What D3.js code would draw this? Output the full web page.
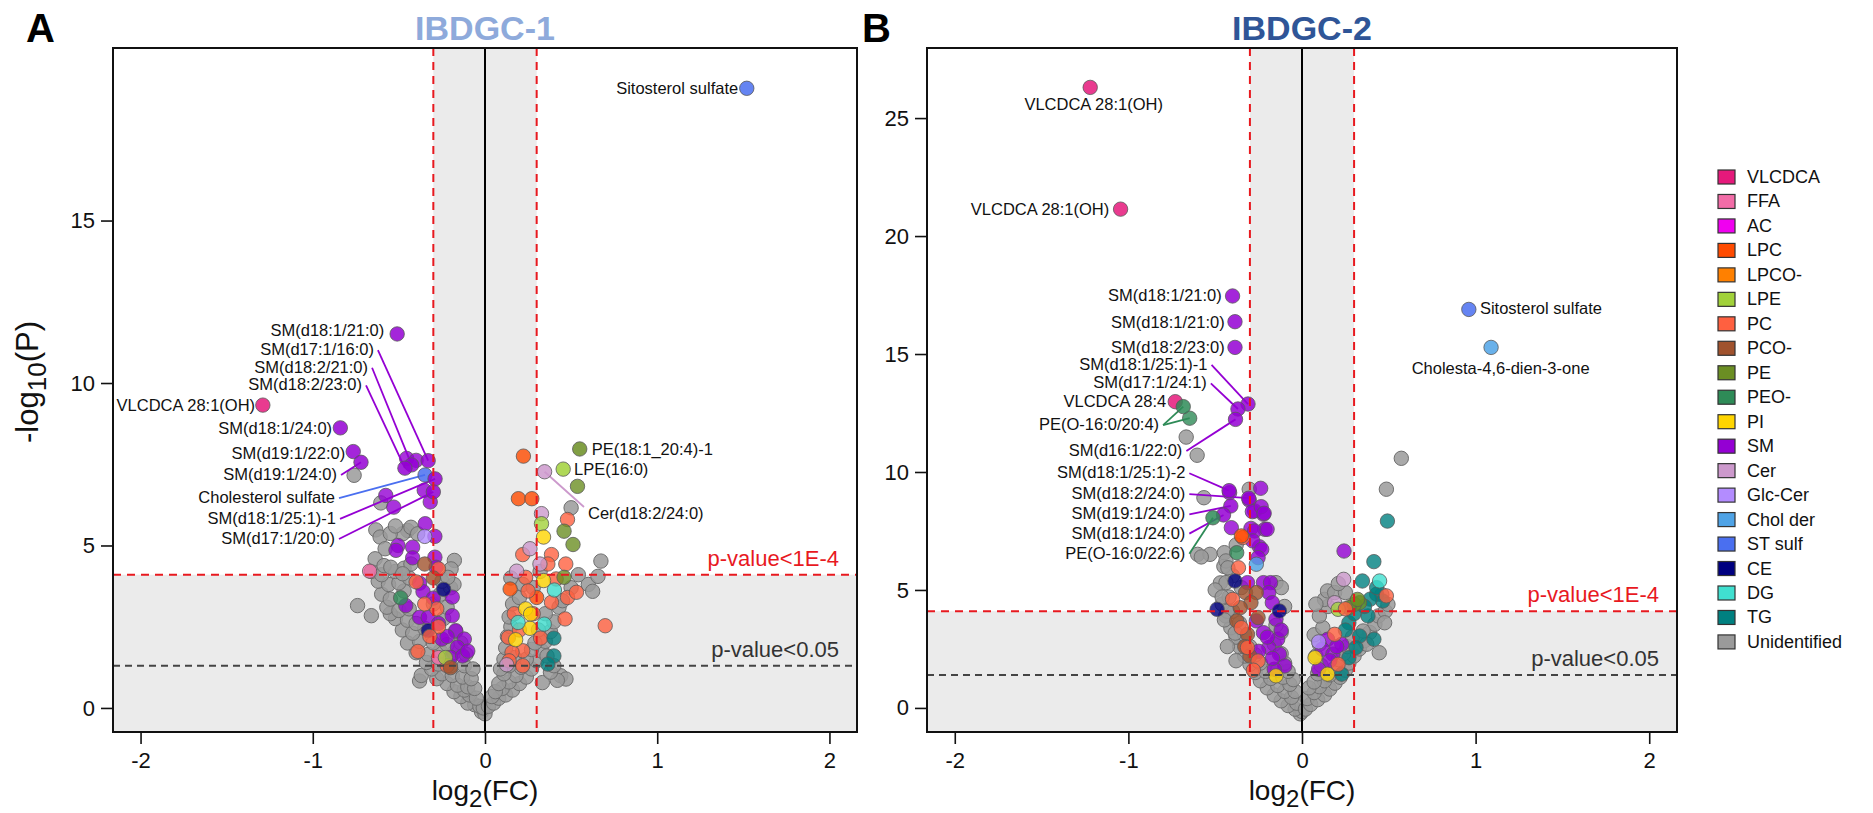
<!DOCTYPE html>
<html>
<head>
<meta charset="utf-8">
<script src="https://cdn.jsdelivr.net/npm/d3@7"></script>
<style>
  body { margin: 0; background: #fff; }
  text { font-family: "Liberation Sans", Arial, Helvetica, sans-serif; }
</style>
</head>
<body>
<svg id="chart" width="1873" height="813"></svg>
<script>
// ---- lipid classes and legend colours ----
const classNames = ["VLCDCA","FFA","AC","LPC","LPCO-","LPE","PC","PCO-","PE","PEO-","PI","SM","Cer","Glc-Cer","Chol der","ST sulf","CE","DG","TG","Unidentified"];
const classColors = ["#e5197b","#f26ca7","#f000f0","#ff4b00","#ff8000","#a1d13a","#ff6040","#a0522d","#6b8e23","#2e8b57","#ffd500","#9400d3","#cc99cc","#b38cff","#4fa3e6","#4a6ff0","#000080","#40e0d0","#008080","#9a9a9a"];

// ---- axis ticks ----
const xTickValues = [-2, -1, 0, 1, 2];
const yTicksA = [0, 5, 10, 15];
const yTicksB = [0, 5, 10, 15, 20, 25];

// ---- significance thresholds (log2 FC cut, -log10 p) ----
const fcCut = 0.3;
const strictP = [4.1, 4.1];
const nominalP = [1.3, 1.4];

// ---- IBDGC-1: unidentified features [log2FC, -log10P] ----
const grayA = [
  [-0.02,-0.12],[0.0,-0.18],[-0.06,0.1],[-0.1,0.15],[-0.03,0.05],[-0.01,0.0],
  [-0.14,0.35],[-0.09,0.4],[-0.05,0.3],[-0.18,0.5],[-0.12,0.55],
  [-0.22,0.75],[-0.16,0.7],[-0.1,0.65],[-0.06,0.6],[-0.28,0.9],[-0.38,0.83],[-0.37,1.0],
  [-0.25,1.05],[-0.19,1.0],[-0.13,0.95],[-0.08,0.9],[-0.31,1.2],
  [-0.34,1.4],[-0.27,1.35],[-0.2,1.3],[-0.12,1.3],[-0.07,1.2],
  [-0.4,1.7],[-0.33,1.65],[-0.26,1.75],[-0.18,1.7],[-0.11,1.65],
  [-0.45,2.0],[-0.38,2.05],[-0.3,2.0],[-0.14,2.0],[-0.22,1.95],
  [-0.48,2.4],[-0.42,2.3],[-0.35,2.45],[-0.17,2.35],
  [-0.52,2.75],[-0.45,2.7],[-0.4,2.6],[-0.24,2.75],[-0.55,2.9],
  [-0.57,3.1],[-0.5,3.0],[-0.44,3.05],[-0.3,3.2],[-0.22,3.1],
  [-0.6,3.5],[-0.55,3.35],[-0.47,3.6],[-0.26,3.5],[-0.2,3.7],
  [-0.62,3.9],[-0.56,3.8],[-0.5,3.85],[-0.44,4.0],[-0.25,3.9],[-0.18,3.8],
  [-0.66,4.2],[-0.6,4.1],[-0.52,4.2],[-0.47,4.3],
  [-0.74,3.15],[-0.66,2.84],
  [-0.76,7.16],[-0.605,6.31],[-0.634,5.48],[-0.609,5.26],[-0.449,5.46],[-0.478,5.36],[-0.43,5.56],
  [-0.391,5.36],[-0.638,4.59],[-0.586,4.38],[-0.547,4.33],[-0.43,4.43],[-0.478,4.13],[-0.178,4.54],
  [-0.197,4.28],[-0.216,4.02],[-0.55,5.37],[-0.58,4.9],[-0.52,5.6],
  [0.02,0.05],[0.05,0.15],[0.08,0.3],[0.12,0.4],[0.04,0.35],[0.16,0.55],[0.1,0.6],[0.06,0.5],
  [0.2,0.75],[0.14,0.8],[0.08,0.75],[0.24,0.95],[0.18,1.0],[0.11,1.05],[0.27,1.2],[0.21,1.25],
  [0.14,1.3],[0.09,1.2],[0.3,1.45],[0.24,1.5],[0.17,1.55],[0.11,1.5],[0.33,1.75],[0.27,1.8],
  [0.12,1.85],[0.35,2.05],[0.29,2.0],[0.13,2.2],[0.38,2.35],[0.31,2.4],[0.15,2.5],[0.4,2.65],
  [0.35,2.9],[0.14,2.8],[0.43,3.1],[0.16,3.2],[0.45,3.3],[0.2,3.4],[0.5,3.7],[0.22,3.8],
  [0.28,3.7],[0.6,3.8],[0.32,4.2],[0.15,4.0],[0.44,0.99],[0.47,0.89],[0.42,0.85],[0.333,0.78],
  [0.38,1.1],[0.4,1.3],[0.36,1.6],
  [0.5,6.16],[0.673,4.52],[0.656,4.05],[0.542,4.1],[0.625,3.59]
];

// ---- IBDGC-1: annotated-class features [log2FC, -log10P, class] ----
const lipidsA = [
  [-0.455,7.68,"SM"],[-0.40,7.62,"SM"],[-0.353,6.7,"SM"],[-0.318,6.34,"SM"],[-0.576,6.54,"SM"],
  [-0.53,6.18,"SM"],[-0.347,5.67,"SM"],[-0.291,5.28,"SM"],[-0.505,5.0,"SM"],[-0.517,4.85,"SM"],
  [-0.42,4.95,"SM"],[-0.42,4.62,"SM"],[-0.291,4.64,"SM"],[-0.284,4.33,"SM"],
  [-0.38,3.84,"SM"],[-0.36,3.58,"SM"],[-0.30,3.38,"SM"],[-0.19,3.41,"SM"],[-0.46,3.15,"SM"],
  [-0.38,2.79,"SM"],[-0.33,2.79,"SM"],[-0.19,2.84,"SM"],[-0.17,2.38,"SM"],[-0.12,2.12,"SM"],
  [-0.16,1.87,"SM"],[-0.2,1.56,"SM"],[-0.13,1.6,"SM"],[-0.25,2.12,"SM"],[-0.27,2.6,"SM"],
  [-0.22,2.2,"SM"],[-0.1,1.75,"SM"],
  [-0.24,3.65,"CE"],[-0.33,2.38,"CE"],
  [-0.4,3.88,"PC"],[-0.39,1.74,"PC"],[-0.28,3.05,"PC"],[-0.27,4.28,"PC"],[-0.27,2.5,"PC"],
  [-0.35,3.2,"PC"],[-0.32,2.2,"PC"],[-0.22,1.3,"PC"],
  [-0.49,3.39,"PEO-"],
  [-0.27,1.55,"FFA"],[-0.67,4.21,"FFA"],
  [-0.23,1.55,"LPE"],
  [-0.35,4.43,"PCO-"],[-0.2,1.24,"PCO-"],[-0.3,4.0,"PCO-"],
  [-0.35,5.28,"Glc-Cer"],
  [0.223,7.75,"LPC"],[0.194,6.44,"LPC"],[0.272,6.44,"LPC"],[0.146,3.66,"LPC"],[0.3,3.4,"LPC"],
  [0.479,5.80,"PC"],[0.219,4.72,"PC"],[0.386,4.72,"PC"],[0.365,4.43,"PC"],[0.469,4.43,"PC"],
  [0.236,4.02,"PC"],[0.413,3.97,"PC"],[0.386,3.25,"PC"],[0.479,3.40,"PC"],[0.531,3.56,"PC"],
  [0.465,2.74,"PC"],[0.698,2.53,"PC"],[0.136,2.17,"PC"],[0.323,2.15,"PC"],[0.219,1.76,"PC"],
  [0.157,1.71,"PC"],[0.219,1.3,"PC"],[0.2,2.4,"PC"],[0.25,3.6,"PC"],[0.17,2.9,"PC"],
  [0.28,2.9,"PC"],[0.14,1.45,"PC"],
  [0.328,5.98,"Cer"],[0.261,4.9,"Cer"],[0.319,4.43,"Cer"],[0.184,4.21,"Cer"],[0.126,1.33,"Cer"],
  [0.328,5.67,"LPE"],
  [0.34,5.26,"PI"],[0.34,3.92,"PI"],[0.236,3.05,"PI"],[0.265,2.89,"PI"],[0.261,2.45,"PI"],[0.178,2.10,"PI"],
  [0.537,6.82,"PE"],[0.459,5.44,"PE"],[0.511,5.03,"PE"],[0.459,4.02,"PE"],
  [0.403,3.63,"DG"],[0.192,2.63,"DG"],[0.344,2.58,"DG"],
  [0.4,2.15,"TG"],[0.4,1.6,"TG"],[0.365,1.35,"TG"]
];

// ---- IBDGC-1: named features [name, log2FC, -log10P, class] ----
const namedA = [
  ["Sitosterol sulfate", 1.52, 19.07, "ST sulf"],
  ["SM(d18:1/21:0)", -0.51, 11.51, "SM"],
  ["SM(d17:1/16:0)", -0.33, 7.61, "SM"],
  ["SM(d18:2/21:0)", -0.426, 7.48, "SM"],
  ["SM(d18:2/23:0)", -0.465, 7.38, "SM"],
  ["VLCDCA 28:1(OH)", -1.29, 9.32, "VLCDCA"],
  ["SM(d18:1/24:0)", -0.84, 8.62, "SM"],
  ["SM(d19:1/22:0)", -0.765, 7.89, "SM"],
  ["SM(d19:1/24:0)", -0.72, 7.56, "SM"],
  ["Cholesterol sulfate", -0.348, 7.17, "ST sulf"],
  ["SM(d18:1/25:1)-1", -0.29, 7.05, "SM"],
  ["SM(d17:1/20:0)", -0.30, 6.65, "SM"],
  ["PE(18:1_20:4)-1", 0.55, 7.97, "PE"],
  ["LPE(16:0)", 0.454, 7.35, "LPE"],
  ["Cer(d18:2/24:0)", 0.346, 7.27, "Cer"]
];
// label placement for namedA, same order: [labelX, labelY, anchor, leader]
const labelLayoutA = [
  [1.47, 19.07, "end", false],
  [-0.585, 11.62, "end", false],
  [-0.645, 11.04, "end", true],
  [-0.679, 10.5, "end", true],
  [-0.714, 9.96, "end", true],
  [-1.335, 9.32, "end", false],
  [-0.888, 8.62, "end", false],
  [-0.812, 7.85, "end", false],
  [-0.859, 7.2, "end", true],
  [-0.871, 6.49, "end", true],
  [-0.865, 5.85, "end", true],
  [-0.871, 5.23, "end", true],
  [0.62, 7.97, "start", false],
  [0.517, 7.35, "start", false],
  [0.598, 6.0, "start", true]
];

// ---- IBDGC-2: unidentified features ----
const grayB = [
  [-0.01,-0.25],[0.0,-0.15],[-0.04,-0.05],[-0.08,0.1],[-0.03,0.2],[-0.12,0.3],[-0.06,0.45],
  [-0.16,0.55],[-0.1,0.7],[-0.04,0.7],[-0.2,0.85],[-0.14,0.95],[-0.07,1.0],[-0.24,1.15],
  [-0.18,1.25],[-0.11,1.3],[-0.05,1.2],[-0.27,1.5],[-0.21,1.55],[-0.14,1.6],[-0.08,1.55],
  [-0.3,1.85],[-0.24,1.9],[-0.1,1.9],[-0.33,2.2],[-0.27,2.25],[-0.12,2.3],[-0.36,2.6],
  [-0.3,2.6],[-0.16,2.7],[-0.38,3.0],[-0.33,3.1],[-0.12,3.2],[-0.41,3.4],[-0.36,3.6],
  [-0.15,3.5],[-0.44,3.9],[-0.4,4.1],[-0.1,4.3],[-0.46,4.4],[-0.42,4.7],[-0.35,5.1],
  [-0.47,5.3],[-0.4,5.6],[-0.45,6.0],[-0.38,2.0],[-0.43,4.1],[-0.447,3.73],[-0.385,3.17],[-0.43,2.6],
  [-0.667,11.48],[-0.604,10.71],[-0.565,8.91],[-0.304,9.27],[-0.601,6.51],[-0.53,6.51],
  [-0.447,6.58],[-0.438,6.23],[-0.427,5.94],[-0.438,5.31],[-0.15,5.31],[-0.119,5.1],
  [-0.58,6.4],[-0.5,5.0],[-0.46,4.7],[-0.379,6.91],
  [0.02,-0.05],[0.05,0.15],[0.03,0.4],[0.09,0.35],[0.13,0.55],[0.07,0.65],[0.16,0.8],
  [0.1,0.9],[0.04,0.85],[0.19,1.05],[0.13,1.15],[0.07,1.1],[0.22,1.3],[0.16,1.4],[0.09,1.45],
  [0.25,1.6],[0.19,1.7],[0.11,1.8],[0.27,1.9],[0.21,2.05],[0.3,2.2],[0.24,2.3],[0.08,2.2],
  [0.33,2.5],[0.26,2.6],[0.1,2.7],[0.36,2.85],[0.29,3.0],[0.07,3.1],[0.39,3.2],[0.12,3.4],
  [0.42,3.55],[0.1,3.9],[0.44,3.9],[0.15,4.3],[0.48,4.1],[0.46,4.8],[0.13,4.6],[0.08,4.4],
  [0.572,10.58],[0.486,9.27],[0.147,4.96],[0.188,4.89],[0.25,4.89],[0.209,5.27],[0.495,4.39],
  [0.476,3.61],[0.445,2.34],[0.373,2.7],[0.352,3.26]
];

// ---- IBDGC-2: annotated-class features ----
const lipidsB = [
  [-0.238,9.31,"SM"],[-0.417,9.12,"SM"],[-0.304,8.81,"SM"],[-0.273,8.35,"SM"],[-0.222,8.21,"SM"],
  [-0.286,8.32,"SM"],[-0.235,8.53,"SM"],[-0.218,8.25,"SM"],[-0.294,7.61,"SM"],[-0.214,7.57,"SM"],
  [-0.245,6.83,"SM"],[-0.407,7.64,"SM"],[-0.273,7.5,"SM"],[-0.201,7.57,"SM"],[-0.284,7.08,"SM"],
  [-0.232,6.72,"SM"],[-0.253,6.37,"SM"],[-0.314,5.31,"SM"],[-0.222,5.31,"SM"],[-0.181,5.31,"SM"],
  [-0.191,4.89,"SM"],[-0.171,4.46,"SM"],
  [-0.263,3.69,"SM"],[-0.15,3.76,"SM"],[-0.222,3.19,"SM"],[-0.14,2.91,"SM"],[-0.191,2.56,"SM"],
  [-0.13,2.28,"SM"],[-0.099,1.78,"SM"],[-0.16,1.64,"SM"],[-0.2,3.0,"SM"],[-0.17,2.1,"SM"],
  [-0.12,3.3,"SM"],[-0.25,2.4,"SM"],
  [-0.325,4.89,"PCO-"],[-0.263,4.89,"PCO-"],[-0.294,4.46,"PCO-"],[-0.356,4.25,"PCO-"],
  [-0.376,3.69,"PCO-"],[-0.314,3.12,"PCO-"],[-0.253,3.83,"PCO-"],[-0.33,2.6,"PCO-"],[-0.3,2.2,"PCO-"],
  [-0.341,7.22,"PC"],[-0.366,5.94,"PC"],[-0.314,2.56,"PC"],[-0.253,1.99,"PC"],[-0.4,4.6,"PC"],
  [-0.35,3.4,"PC"],[-0.28,1.6,"PC"],
  [-0.349,7.29,"LPC"],
  [-0.386,5.38,"CE"],[-0.489,4.18,"CE"],[-0.13,4.11,"CE"],
  [-0.376,6.58,"PEO-"],[-0.647,12.28,"PEO-"],
  [-0.263,6.09,"Chol der"],
  [-0.15,1.36,"PI"],
  [0.242,6.65,"SM"],[0.147,2.91,"SM"],[0.117,2.49,"SM"],[0.178,2.28,"SM"],[0.096,1.64,"SM"],
  [0.229,2.7,"SM"],[0.16,2.0,"SM"],[0.2,2.6,"SM"],
  [0.492,7.92,"TG"],[0.414,6.2,"TG"],[0.348,5.38,"TG"],[0.43,4.82,"TG"],[0.465,4.53,"TG"],
  [0.393,4.61,"TG"],[0.27,3.61,"TG"],[0.332,3.05,"TG"],[0.311,2.56,"TG"],[0.27,2.13,"TG"],
  [0.414,2.91,"TG"],[0.229,1.43,"TG"],[0.38,3.9,"TG"],[0.3,4.0,"TG"],[0.36,4.3,"TG"],
  [0.43,5.1,"TG"],[0.25,3.3,"TG"],
  [0.447,5.38,"DG"],
  [0.24,5.45,"Cer"],[0.188,4.46,"Cer"],
  [0.332,4.46,"PE"],[0.301,4.39,"PE"],[0.27,4.25,"PE"],[0.32,4.6,"PE"],
  [0.208,4.18,"LPE"],
  [0.075,2.13,"PI"],[0.147,1.43,"PI"],
  [0.188,3.12,"PC"],[0.208,1.85,"PC"],[0.486,4.75,"PC"],[0.25,4.2,"PC"],
  [0.096,2.8,"Glc-Cer"]
];

// ---- IBDGC-2: named features ----
const namedB = [
  ["VLCDCA 28:1(OH)", -1.22, 26.3, "VLCDCA"],
  ["VLCDCA 28:1(OH)", -1.045, 21.14, "VLCDCA"],
  ["SM(d18:1/21:0)", -0.4, 17.46, "SM"],
  ["SM(d18:1/21:0)", -0.386, 16.37, "SM"],
  ["SM(d18:2/23:0)", -0.386, 15.28, "SM"],
  ["SM(d18:1/25:1)-1", -0.311, 12.88, "SM"],
  ["SM(d17:1/24:1)", -0.369, 12.67, "SM"],
  ["VLCDCA 28:4", -0.73, 12.98, "VLCDCA"],
  ["PE(O-16:0/20:4)", -0.684, 12.77, "PEO-"],
  ["SM(d16:1/22:0)", -0.383, 12.23, "SM"],
  ["SM(d18:1/25:1)-2", -0.42, 9.21, "SM"],
  ["SM(d18:2/24:0)", -0.307, 8.89, "SM"],
  ["SM(d19:1/24:0)", -0.41, 8.56, "SM"],
  ["SM(d18:1/24:0)", -0.452, 8.18, "SM"],
  ["PE(O-16:0/22:6)", -0.513, 8.06, "PEO-"],
  ["Sitosterol sulfate", 0.961, 16.89, "ST sulf"],
  ["Cholesta-4,6-dien-3-one", 1.089, 15.28, "Chol der"]
];
const labelLayoutB = [
  [-1.2, 25.6, "middle", false],
  [-1.11, 21.14, "end", false],
  [-0.462, 17.5, "end", false],
  [-0.445, 16.37, "end", false],
  [-0.445, 15.28, "end", false],
  [-0.544, 14.58, "end", true],
  [-0.548, 13.8, "end", true],
  [-0.782, 13.0, "end", false],
  [-0.823, 12.03, "end", true, [-0.647, 12.28]],
  [-0.689, 10.93, "end", true],
  [-0.672, 9.99, "end", true],
  [-0.672, 9.1, "end", true],
  [-0.672, 8.25, "end", true],
  [-0.672, 7.43, "end", true],
  [-0.672, 6.58, "end", true],
  [1.025, 16.95, "start", false],
  [1.144, 14.4, "middle", false]
];

// ---- drawing ----
const svg = d3.select("#chart");
svg.append("rect").attr("width", 1873).attr("height", 813).attr("fill", "#fff");
const color = d3.scaleOrdinal().domain(classNames).range(classColors);
const xDomain = [-2.16, 2.16];
const R = 7.2;
const RED = "#e8191f";

const panels = [
  { id: "A", title: "IBDGC-1", titleColor: "#8eaadb", letterX: 26,
    box: { l: 113, r: 857, t: 48, b: 732 }, yDomain: [-0.74, 20.31], yTicks: yTicksA,
    grays: grayA, lipids: lipidsA, named: namedA, layout: labelLayoutA,
    pStrict: strictP[0], pNominal: nominalP[0], yTitle: true },
  { id: "B", title: "IBDGC-2", titleColor: "#2f5597", letterX: 862,
    box: { l: 927, r: 1677, t: 48, b: 732 }, yDomain: [-1.02, 27.97], yTicks: yTicksB,
    grays: grayB, lipids: lipidsB, named: namedB, layout: labelLayoutB,
    pStrict: strictP[1], pNominal: nominalP[1], yTitle: false }
];

function drawPanel(p) {
  const x = d3.scaleLinear().domain(xDomain).range([p.box.l, p.box.r]);
  const y = d3.scaleLinear().domain(p.yDomain).range([p.box.b, p.box.t]);
  const g = svg.append("g");
  const W = p.box.r - p.box.l, H = p.box.b - p.box.t;

  // shaded non-significant zones
  g.append("rect").attr("x", p.box.l).attr("y", p.box.t).attr("width", W).attr("height", H).attr("fill", "#ebebeb");
  g.append("rect").attr("x", p.box.l).attr("y", p.box.t)
    .attr("width", x(-fcCut) - p.box.l).attr("height", y(p.pStrict) - p.box.t).attr("fill", "#fff");
  g.append("rect").attr("x", x(fcCut)).attr("y", p.box.t)
    .attr("width", p.box.r - x(fcCut)).attr("height", y(p.pStrict) - p.box.t).attr("fill", "#fff");

  svg.append("clipPath").attr("id", "clip" + p.id)
    .append("rect").attr("x", p.box.l).attr("y", p.box.t).attr("width", W).attr("height", H);
  const plot = g.append("g").attr("clip-path", `url(#clip${p.id})`);

  // unidentified features
  plot.append("g").selectAll("circle").data(p.grays).join("circle")
    .attr("cx", d => x(d[0])).attr("cy", d => y(d[1])).attr("r", R)
    .attr("fill", color("Unidentified")).attr("fill-opacity", 0.85)
    .attr("stroke", "#6f6f6f").attr("stroke-width", 1);

  // annotated classes
  plot.append("g").selectAll("circle").data(p.lipids).join("circle")
    .attr("cx", d => x(d[0])).attr("cy", d => y(d[1])).attr("r", R)
    .attr("fill", d => color(d[2])).attr("fill-opacity", 0.8)
    .attr("stroke", "#5a5a5a").attr("stroke-opacity", 0.8).attr("stroke-width", 1);

  // leader lines
  const leaders = plot.append("g");
  p.named.forEach((d, i) => {
    const L = p.layout[i];
    if (!L[3]) return;
    const lx = x(L[0]), ly = y(L[1]);
    const sx = L[2] === "end" ? lx + 4 : lx - 4;
    const sy = L[2] === "end" ? ly + 1 : ly - 6;
    const targets = [[d[1], d[2]]].concat(L[4] ? [L[4]] : []);
    targets.forEach(t => {
      leaders.append("line").attr("x1", sx).attr("y1", sy).attr("x2", x(t[0])).attr("y2", y(t[1]))
        .attr("stroke", color(d[3])).attr("stroke-width", 1.8);
    });
  });

  // named features
  plot.append("g").selectAll("circle").data(p.named).join("circle")
    .attr("cx", d => x(d[1])).attr("cy", d => y(d[2])).attr("r", R)
    .attr("fill", d => color(d[3])).attr("fill-opacity", 0.85)
    .attr("stroke", "#5a5a5a").attr("stroke-opacity", 0.8).attr("stroke-width", 1);

  // reference lines
  g.append("line").attr("x1", x(0)).attr("x2", x(0)).attr("y1", p.box.t).attr("y2", p.box.b)
    .attr("stroke", "#000").attr("stroke-width", 2);
  [-fcCut, fcCut].forEach(v => {
    g.append("line").attr("x1", x(v)).attr("x2", x(v)).attr("y1", p.box.t).attr("y2", p.box.b)
      .attr("stroke", RED).attr("stroke-width", 2).attr("stroke-dasharray", "8,6");
  });
  g.append("line").attr("x1", p.box.l).attr("x2", p.box.r).attr("y1", y(p.pStrict)).attr("y2", y(p.pStrict))
    .attr("stroke", RED).attr("stroke-width", 2).attr("stroke-dasharray", "8,6");
  g.append("line").attr("x1", p.box.l).attr("x2", p.box.r).attr("y1", y(p.pNominal)).attr("y2", y(p.pNominal))
    .attr("stroke", "#444").attr("stroke-width", 2).attr("stroke-dasharray", "7,5");

  // feature labels
  g.append("g").selectAll("text").data(p.named).join("text")
    .attr("x", (d, i) => x(p.layout[i][0])).attr("y", (d, i) => y(p.layout[i][1]))
    .attr("text-anchor", (d, i) => p.layout[i][2])
    .attr("dominant-baseline", "central")
    .attr("font-size", 16.5).attr("fill", "#111").text(d => d[0]);

  // threshold captions
  g.append("text").attr("x", p.box.r - 18).attr("y", y(p.pStrict) - 9).attr("text-anchor", "end")
    .attr("font-size", 22).attr("fill", RED).text("p-value<1E-4");
  g.append("text").attr("x", p.box.r - 18).attr("y", y(p.pNominal) - 9).attr("text-anchor", "end")
    .attr("font-size", 22).attr("fill", "#333").text("p-value<0.05");

  // frame
  g.append("rect").attr("x", p.box.l).attr("y", p.box.t).attr("width", W).attr("height", H)
    .attr("fill", "none").attr("stroke", "#111").attr("stroke-width", 2);

  // axes
  const xAxis = g.append("g").attr("transform", `translate(0,${p.box.b})`)
    .call(d3.axisBottom(x).tickValues(xTickValues).tickSize(12).tickPadding(8).tickFormat(d => String(d)));
  xAxis.select(".domain").remove();
  xAxis.selectAll("line").attr("stroke", "#111").attr("stroke-width", 1.6);
  xAxis.selectAll("text").attr("font-size", 22).attr("fill", "#111")
    .style("font-family", "'Liberation Sans', Arial, sans-serif");

  const yAxis = g.append("g").attr("transform", `translate(${p.box.l},0)`)
    .call(d3.axisLeft(y).tickValues(p.yTicks).tickSize(12).tickPadding(6).tickFormat(d => String(d)));
  yAxis.select(".domain").remove();
  yAxis.selectAll("line").attr("stroke", "#111").attr("stroke-width", 1.6);
  yAxis.selectAll("text").attr("font-size", 22).attr("fill", "#111")
    .style("font-family", "'Liberation Sans', Arial, sans-serif");

  // axis titles
  const cx = (p.box.l + p.box.r) / 2;
  const xt = g.append("text").attr("x", x(0)).attr("y", 800).attr("text-anchor", "middle")
    .attr("font-size", 28).attr("fill", "#111");
  xt.append("tspan").text("log");
  xt.append("tspan").attr("dy", 7).attr("font-size", 24).text("2");
  xt.append("tspan").attr("dy", -7).text("(FC)");

  if (p.yTitle) {
    const yt = g.append("text").attr("transform", "translate(38,382) rotate(-90)")
      .attr("text-anchor", "middle").attr("font-size", 31).attr("fill", "#111");
    yt.append("tspan").text("-log");
    yt.append("tspan").attr("dy", 8).attr("font-size", 26).text("10");
    yt.append("tspan").attr("dy", -8).text("(P)");
  }

  // panel title and letter
  g.append("text").attr("x", cx).attr("y", 40).attr("text-anchor", "middle")
    .attr("font-size", 34).attr("font-weight", "bold").attr("fill", p.titleColor).text(p.title);
  g.append("text").attr("x", p.letterX).attr("y", 42)
    .attr("font-size", 40).attr("font-weight", "bold").attr("fill", "#000").text(p.id);
}

panels.forEach(drawPanel);

// legend
const legend = svg.append("g").attr("transform", "translate(1718,177)");
const rowH = 24.47;
classNames.forEach((name, i) => {
  const row = legend.append("g").attr("transform", `translate(0,${i * rowH})`);
  row.append("rect").attr("x", 0).attr("y", -7).attr("width", 17).attr("height", 14)
    .attr("fill", color(name)).attr("stroke", "#333").attr("stroke-width", 1.2);
  row.append("text").attr("x", 29).attr("y", 0).attr("dominant-baseline", "central")
    .attr("font-size", 18).attr("fill", "#111").text(name);
});
</script>
</body>
</html>
